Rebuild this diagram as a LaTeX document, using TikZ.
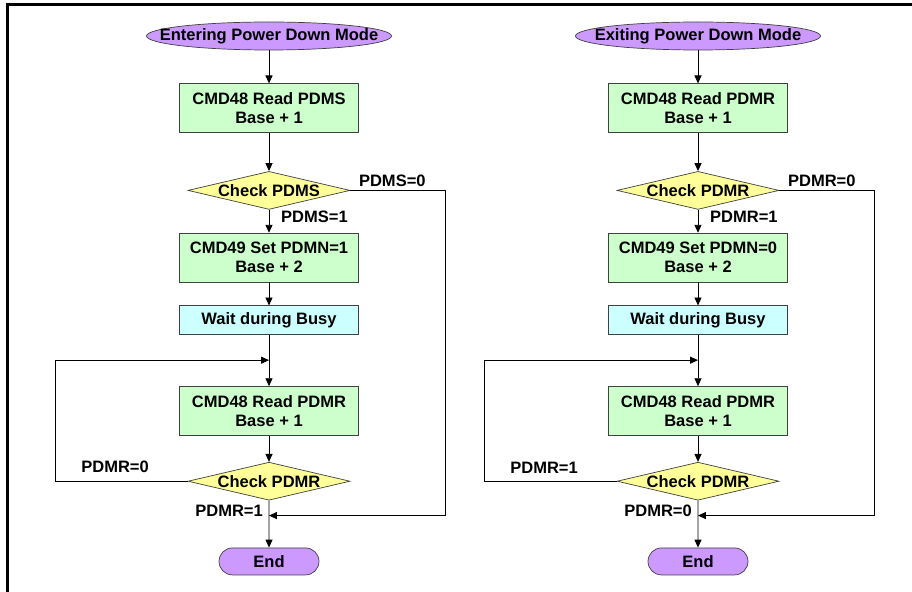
\documentclass[tikz,border=0pt]{standalone}
\usepackage{fontspec}
\setmainfont{Liberation Sans}
\usetikzlibrary{positioning, arrows.meta, shapes.geometric, shapes.misc}
\definecolor{termviolet}{HTML}{CC99FF}
\definecolor{boxgreen}{HTML}{CCFFCC}
\definecolor{checkyellow}{HTML}{FFFF99}
\definecolor{waitcyan}{HTML}{CCFFFF}

\begin{document}
\begin{tikzpicture}[
    font=\fontsize{9.4}{11}\selectfont\bfseries, % bold sans labels
    terminal/.style={draw=black!75, fill=termviolet, ellipse, inner sep=0pt, minimum width=4.9cm, minimum height=0.56cm},
    endpill/.style={draw=black!75, fill=termviolet, rounded rectangle, inner sep=0pt, minimum width=2cm, minimum height=0.54cm},
    box/.style={draw=black!75, fill=boxgreen, align=center, inner sep=0pt, minimum width=3.58cm, minimum height=0.98cm},
    waitbox/.style={box, fill=waitcyan, minimum height=0.58cm},
    decision/.style={draw=black!75, fill=checkyellow, diamond, aspect=4.26, inner sep=0pt, minimum width=3.24cm, minimum height=0.76cm},
    arrow/.style={-{Triangle[length=4.5pt, width=4pt]}, line width=0.5pt},
    lbl/.style={inner sep=1pt}
]
\useasboundingbox (0,0) rectangle (18.24,-11.84);

% frame
\draw[line width=1.4pt] (0.146,-11.84) |- (18.24,-0.09);

% entering power down mode
\node[terminal, label=center:{Entering Power Down Mode}] (enter) at (5.38,-0.72) {};
\node[box, below=0.66cm of enter] (readpdms) {CMD48 Read PDMS\\Base + 1};
\node[decision, below=0.76cm of readpdms, label=center:{Check PDMS}] (checkpdms) {};
\node[box, below=0.46cm of checkpdms] (setpdmn) {CMD49 Set PDMN=1\\Base + 2};
\node[waitbox, below=0.46cm of setpdmn] (waitenter) {Wait during Busy};
\coordinate[below=0.5cm of waitenter] (loopenter);
\node[box, below=0.52cm of loopenter] (pollenter) {CMD48 Read PDMR\\Base + 1};
\node[decision, below=0.52cm of pollenter, label=center:{Check PDMR}] (checkenter) {};
\coordinate[below=0.3cm of checkenter] (joinenter);
\node[endpill, below=0.64cm of joinenter] (endenter) {End};

% exiting power down mode
\node[terminal, label=center:{Exiting Power Down Mode}] (exit) at (13.96,-0.72) {};
\node[box, below=0.66cm of exit] (readpdmr) {CMD48 Read PDMR\\Base + 1};
\node[decision, below=0.76cm of readpdmr, label=center:{Check PDMR}] (checkpdmr) {};
\node[box, below=0.46cm of checkpdmr] (clrpdmn) {CMD49 Set PDMN=0\\Base + 2};
\node[waitbox, below=0.46cm of clrpdmn] (waitexit) {Wait during Busy};
\coordinate[below=0.5cm of waitexit] (loopexit);
\node[box, below=0.52cm of loopexit] (pollexit) {CMD48 Read PDMR\\Base + 1};
\node[decision, below=0.52cm of pollexit, label=center:{Check PDMR}] (checkexit) {};
\coordinate[below=0.3cm of checkexit] (joinexit);
\node[endpill, below=0.64cm of joinexit] (endexit) {End};

% arrows, entering
\draw[arrow] (enter) -- (readpdms);
\draw[arrow] (readpdms) -- (checkpdms);
\draw[arrow] (checkpdms) -- (setpdmn) node[lbl, pos=0.3, right=0.2cm] {PDMS=1};
\draw[arrow] (setpdmn) -- (waitenter);
\draw[arrow] (waitenter) -- (pollenter);
\draw[arrow] (pollenter) -- (checkenter);
\draw[arrow] (checkenter) -- (endenter) node[lbl, pos=0.22, left=0.08cm] {PDMR=1};
\draw[arrow] (checkenter.west) -- ++(-2.64,0) node[lbl, pos=0.55, above=0.12cm] {PDMR=0} |- (loopenter);
\draw[arrow] (checkpdms.east) -- ++(1.9,0) node[lbl, pos=0, anchor=south west, xshift=0.13cm, yshift=0.03cm] {PDMS=0} |- (joinenter);

% arrows, exiting
\draw[arrow] (exit) -- (readpdmr);
\draw[arrow] (readpdmr) -- (checkpdmr);
\draw[arrow] (checkpdmr) -- (clrpdmn) node[lbl, pos=0.3, right=0.2cm] {PDMR=1};
\draw[arrow] (clrpdmn) -- (waitexit);
\draw[arrow] (waitexit) -- (pollexit);
\draw[arrow] (pollexit) -- (checkexit);
\draw[arrow] (checkexit) -- (endexit) node[lbl, pos=0.22, left=0.08cm] {PDMR=0};
\draw[arrow] (checkexit.west) -- ++(-2.64,0) node[lbl, pos=0.55, above=0.12cm] {PDMR=1} |- (loopexit);
\draw[arrow] (checkpdmr.east) -- ++(1.9,0) node[lbl, pos=0, anchor=south west, xshift=0.13cm, yshift=0.03cm] {PDMR=0} |- (joinexit);
\end{tikzpicture}
\end{document}
